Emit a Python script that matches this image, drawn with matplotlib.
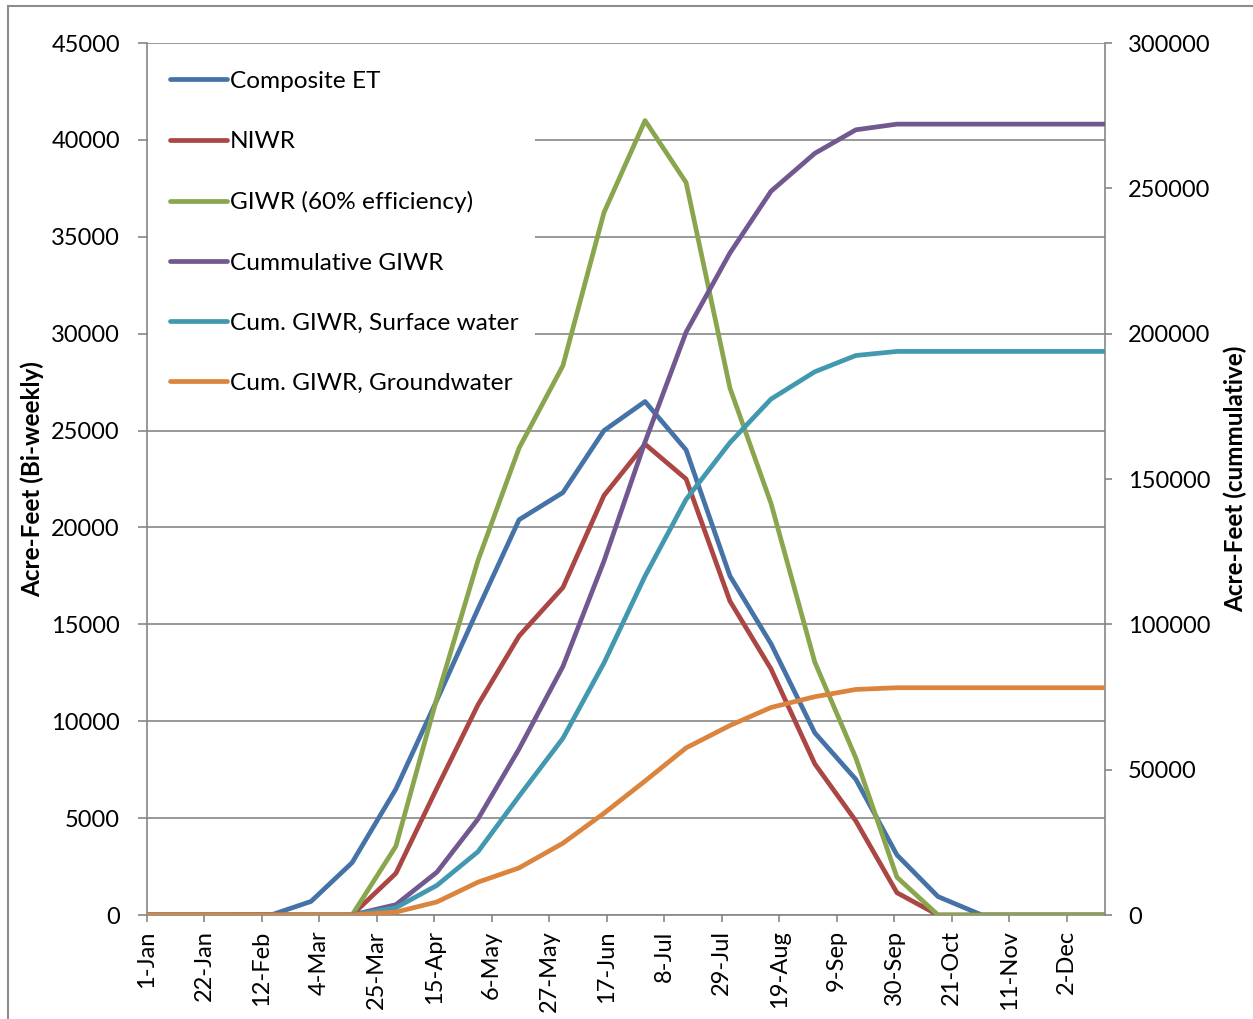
import numpy as np
import pandas as pd
import matplotlib
matplotlib.use("Agg")
import matplotlib.pyplot as plt
from matplotlib.patches import Rectangle

plt.rcParams['font.family'] = ['Lato', 'DejaVu Sans']

# Semi-monthly dates (leap year, so 12-Feb + 21 days = 4-Mar)
YEAR = 2012
dates = ['1-Jan', '16-Jan', '1-Feb', '16-Feb', '1-Mar', '16-Mar', '1-Apr', '16-Apr',
         '1-May', '16-May', '1-Jun', '16-Jun', '1-Jul', '16-Jul', '1-Aug', '16-Aug',
         '1-Sep', '16-Sep', '1-Oct', '16-Oct', '1-Nov', '16-Nov', '1-Dec', '16-Dec']

# Bi-weekly volumes (acre-feet), left axis
composite_et = [0, 0, 0, 30, 700, 2700, 6500, 11100, 15800, 20400, 21800, 25000,
                26500, 24000, 17500, 14000, 9400, 7000, 3100, 950, 0, 0, 0, 0]
niwr = [0, 0, 0, 0, 0, 0, 2150, 6550, 10850, 14400, 16900, 21650,
        24300, 22500, 16200, 12700, 7800, 4850, 1150, 0, 0, 0, 0, 0]
giwr = [0, 0, 0, 0, 0, 0, 3550, 11200, 18300, 24100, 28350, 36250,
        41000, 37800, 27200, 21250, 13050, 8100, 1950, 0, 0, 0, 0, 0]

# Cumulative volumes (acre-feet), right axis
cum_giwr = [0, 0, 0, 0, 0, 0, 3550, 14750, 33050, 57150, 85500, 121750,
            162750, 200550, 227750, 249000, 262050, 270150, 272100, 272100,
            272100, 272100, 272100, 272100]
cum_surface = [0, 0, 0, 0, 0, 0, 2500, 10200, 21800, 40900, 60800, 86700,
               116600, 143000, 162500, 177500, 186900, 192500, 193900, 193900,
               193900, 193900, 193900, 193900]
cum_ground = [0, 0, 0, 0, 0, 0, 1000, 4500, 11300, 16200, 24700, 35000,
              46100, 57500, 65200, 71400, 75100, 77600, 78200, 78200,
              78200, 78200, 78200, 78200]

tick_labels = ['1-Jan', '22-Jan', '12-Feb', '4-Mar', '25-Mar', '15-Apr', '6-May',
               '27-May', '17-Jun', '8-Jul', '29-Jul', '19-Aug', '9-Sep', '30-Sep',
               '21-Oct', '11-Nov', '2-Dec']

left_ticks = list(range(0, 45001, 5000))
right_ticks = list(range(0, 300001, 50000))


def to_dates(labels):
    return pd.to_datetime([f"{s}-{YEAR}" for s in labels], format='%d-%b-%Y')


x = to_dates(dates)
xt = to_dates(tick_labels)

GRID = '#868686'
FS = 17

fig = plt.figure(figsize=(12.53, 10.19), dpi=100)
ax = fig.add_axes([0.1171, 0.10206, 0.7648, 0.8557])
ax2 = ax.twinx()

line_kw = dict(lw=3.4, solid_capstyle='round', solid_joinstyle='round', zorder=3)
h1, = ax.plot(x, composite_et, color='#4572A7', label='Composite ET', **line_kw)
h2, = ax.plot(x, niwr, color='#AA4643', label='NIWR', **line_kw)
h3, = ax.plot(x, giwr, color='#89A54E', label='GIWR (60% efficiency)', **line_kw)
h4, = ax2.plot(x, cum_giwr, color='#71588F', label='Cummulative GIWR', **line_kw)
h5, = ax2.plot(x, cum_surface, color='#4198AF', label='Cum. GIWR, Surface water', **line_kw)
h6, = ax2.plot(x, cum_ground, color='#DB843D', label='Cum. GIWR, Groundwater', **line_kw)

ax.set_xlim(x[0], x[-1])
ax.set_ylim(0, 45000)
ax2.set_ylim(0, 300000)

ax.set_yticks(left_ticks)
ax.set_yticklabels([str(v) for v in left_ticks])
ax2.set_yticks(right_ticks)
ax2.set_yticklabels([str(v) for v in right_ticks])
ax.set_xticks(xt)
ax.set_xticklabels(tick_labels, rotation=90)

ax.yaxis.grid(True, color=GRID, lw=1.2)
ax.set_axisbelow(True)

# white area behind the legend hides the gridlines there
ax.add_patch(Rectangle((0.001, 0.59), 0.404, 0.405, transform=ax.transAxes,
                       facecolor='white', edgecolor='none', zorder=1))

for a in (ax, ax2):
    a.spines['top'].set_visible(False)
    for s in ('left', 'right', 'bottom'):
        a.spines[s].set_color(GRID)
        a.spines[s].set_linewidth(1.2)
ax.spines['right'].set_visible(False)
ax2.spines['left'].set_visible(False)
ax2.spines['bottom'].set_visible(False)

ax.tick_params(axis='y', direction='out', length=6.3, width=1.2, color=GRID,
               labelsize=FS, pad=13)
ax.tick_params(axis='x', direction='out', length=5, width=1.2, color=GRID,
               labelsize=FS, pad=6)
ax2.tick_params(axis='y', direction='out', length=5, width=1.2, color=GRID,
                labelsize=FS, pad=11.5)

ax.set_ylabel('Acre-Feet (Bi-weekly)', fontsize=17.5, fontweight='bold')
ax.yaxis.set_label_coords(-0.107, 0.5)
ax2.set_ylabel('Acre-Feet (cummulative)', fontsize=17.5, fontweight='bold')
ax2.yaxis.set_label_coords(1.124, 0.5)

leg = ax2.legend(handles=[h1, h2, h3, h4, h5, h6], loc='upper left',
                 bbox_to_anchor=(0.003, 0.992), fontsize=17.6, frameon=False,
                 handlelength=2.3, handletextpad=0.12,
                 labelspacing=1.6, borderpad=0.55, borderaxespad=0.3)
leg.set_zorder(10)

# outer chart-area border
fig.add_artist(Rectangle((8 / 1253, -0.1), 1.2, 1 - 6 / 1019 + 0.1,
                         transform=fig.transFigure, fill=False,
                         edgecolor='#8c8c8c', lw=1.5))

fig.savefig('out.png', dpi=100)
